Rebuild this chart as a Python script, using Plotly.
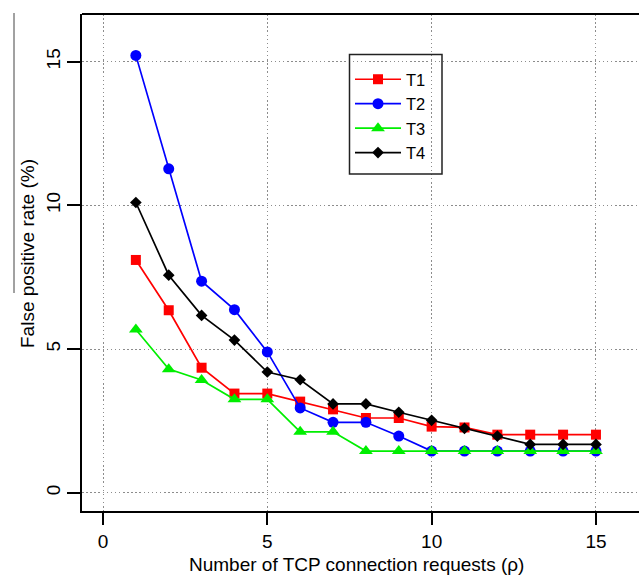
import plotly.graph_objects as go

# Number of TCP connection requests (rho)
rho = list(range(1, 16))

# False positive rate (%) for each threshold setting
t1 = [8.1, 6.35, 4.35, 3.45, 3.45, 3.17, 2.9, 2.6, 2.6, 2.3, 2.27, 2.02, 2.02, 2.02, 2.02]
t2 = [15.22, 11.27, 7.36, 6.37, 4.9, 2.95, 2.45, 2.45, 1.97, 1.45, 1.45, 1.45, 1.45, 1.45, 1.45]
t3 = [5.68, 4.3, 3.92, 3.25, 3.25, 2.12, 2.12, 1.45, 1.45, 1.45, 1.45, 1.45, 1.45, 1.45, 1.45]
t4 = [10.1, 7.57, 6.17, 5.31, 4.2, 3.93, 3.09, 3.09, 2.8, 2.52, 2.24, 1.97, 1.68, 1.68, 1.68]

series = [
    ("T1", t1, "#ff0000", "square", 10),
    ("T2", t2, "#0000ff", "circle", 11),
    ("T3", t3, "#00ee00", "triangle-up", 12),
    ("T4", t4, "#000000", "diamond", 9),
]

xticks = [0, 5, 10, 15]
yticks = [0, 5, 10, 15]

FONT = "Liberation Sans, Arial, sans-serif"

fig = go.Figure()
for name, vals, color, symbol, size in series:
    fig.add_trace(go.Scatter(
        x=rho, y=vals, name=name, mode="lines+markers",
        line=dict(color=color, width=1.7),
        marker=dict(symbol=symbol, size=size, color=color, line=dict(width=0)),
    ))

W, H = 639, 576
ML, MT, MB, MR = 82, 14, 65, 0
pw = W - ML - MR
ph = H - MT - MB

def px_x(p):
    return (p - ML) / pw

def px_y(p):
    return (H - MB - p) / ph

GRID = dict(showgrid=True, gridcolor="#8c8c8c", griddash="1.5px,2.6px", gridwidth=1)

fig.update_layout(
    width=W, height=H,
    margin=dict(l=ML, r=MR, t=MT, b=MB, pad=0),
    paper_bgcolor="white", plot_bgcolor="white",
    font=dict(family=FONT, size=19, color="black"),
    showlegend=True,
    legend=dict(
        x=px_x(350), y=px_y(62), xanchor="left", yanchor="top",
        bgcolor="rgba(0,0,0,0)", borderwidth=0,
        font=dict(size=16.5, family=FONT),
        itemwidth=46,
    ),
    xaxis=dict(
        range=[-0.639, 16.31], tickvals=xticks, ticktext=[str(v) for v in xticks],
        zeroline=False, showline=True, linecolor="black", linewidth=1.6,
        ticks="outside", ticklen=12, tickwidth=1.6, tickcolor="black",
        tickfont=dict(size=19, family=FONT), **GRID,
    ),
    yaxis=dict(
        range=[-0.637, 16.66], tickvals=yticks, ticktext=[str(v) for v in yticks],
        zeroline=False, showline=True, linecolor="black", linewidth=1.6,
        ticks="outside", ticklen=13, tickwidth=1.6, tickcolor="black",
        tickangle=-90, tickfont=dict(size=19, family=FONT), **GRID,
    ),
    shapes=[
        # top border of the plotting box
        dict(type="line", xref="paper", yref="paper", x0=0, x1=1, y0=1, y1=1,
             line=dict(color="black", width=2)),
        # legend frame
        dict(type="rect", xref="paper", yref="paper",
             x0=px_x(349.5), x1=px_x(442), y0=px_y(174), y1=px_y(54.5),
             line=dict(color="#222222", width=1.5), fillcolor="rgba(0,0,0,0)"),
        # thin rule at the left margin
        dict(type="line", xref="paper", yref="paper",
             x0=px_x(14), x1=px_x(14), y0=px_y(13), y1=px_y(293),
             line=dict(color="#444444", width=1)),
    ],
    annotations=[
        dict(text="Number of TCP connection requests (\u03c1)", xref="paper", yref="paper",
             x=px_x(356), y=px_y(564), xanchor="center", yanchor="middle",
             showarrow=False, font=dict(size=19, family=FONT)),
        dict(text="False positive rate (%)", xref="paper", yref="paper",
             x=px_x(27), y=px_y(254), xanchor="center", yanchor="middle",
             textangle=-90, showarrow=False, font=dict(size=19, family=FONT)),
    ],
)

fig.write_html("out.html")
